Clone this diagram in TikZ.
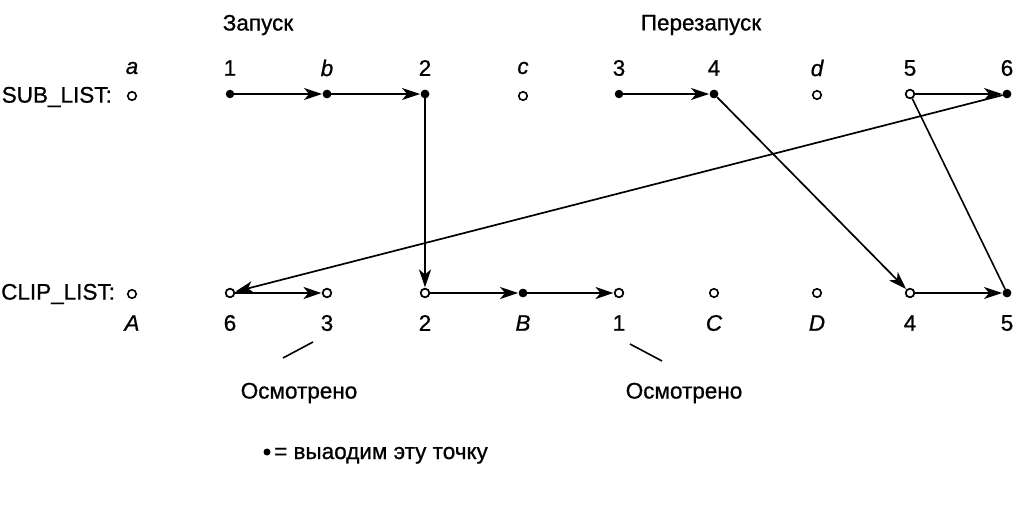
\documentclass[tikz,border=0pt]{standalone}
\usepackage{fontspec}
\setmainfont[FakeBold=0.8]{Liberation Sans}
\usetikzlibrary{arrows.meta}
\begin{document}
\begin{tikzpicture}[x=1pt,y=-1pt,
  full/.style={circle,fill=black,inner sep=0pt,minimum size=8.5pt},
  hollow/.style={circle,draw=black,line width=1.6pt,fill=white,inner sep=0pt,minimum size=8.5pt},
  lbl/.style={font=\fontsize{22.5}{26}\selectfont,inner sep=0pt},
  ilbl/.style={font=\fontsize{22.5}{26}\selectfont\itshape,inner sep=0pt},
  arr/.style={line width=1.7pt,-{Stealth[length=18pt,width=12pt,inset=5pt]},shorten >=0.5pt},
  ln/.style={line width=1.6pt}]
\useasboundingbox (0,0) rectangle (1017,516);
% titles
\node[lbl] (zap) at (258,25) {Запуск};
\node[lbl] (perezap) at (701,25) {Перезапуск};
% row names
\node[lbl,anchor=east] (sub) at (112,97) {SUB\_LIST:};
\node[lbl,anchor=west] (clip) at (1,294) {CLIP\_LIST:};
% top row nodes
\node[hollow] (ta) at (132,96) {};
\node[full] (t1) at (230,94) {};
\node[full] (tb) at (327,94) {};
\node[full] (t2) at (425,94) {};
\node[hollow] (tc) at (523,96) {};
\node[full] (t3) at (619,94) {};
\node[full] (t4) at (714,94) {};
\node[hollow] (td) at (817,95) {};
\node[hollow] (t5) at (910,94) {};
\node[full] (t6) at (1007,94) {};
% top labels
\node[ilbl] at (132,68) {a};
\node[lbl] at (230,68) {1};
\node[ilbl] at (327,68) {b};
\node[lbl] at (425,68) {2};
\node[ilbl] at (523,68) {c};
\node[lbl] at (619,68) {3};
\node[lbl] at (714,68) {4};
\node[ilbl] at (817,68) {d};
\node[lbl] at (910,68) {5};
\node[lbl] at (1007,68) {6};
% bottom row nodes
\node[hollow] (bA) at (132,294) {};
\node[hollow] (b6) at (230,293) {};
\node[hollow] (b3) at (327,293) {};
\node[hollow] (b2) at (425,293) {};
\node[full] (bB) at (523,293) {};
\node[hollow] (b1) at (619,293) {};
\node[hollow] (bC) at (714,293) {};
\node[hollow] (bD) at (817,293) {};
\node[hollow] (b4) at (910,293) {};
\node[full] (b5) at (1007,293) {};
% bottom labels
\node[ilbl] at (132,323) {A};
\node[lbl] at (230,323) {6};
\node[lbl] (l3) at (327,323) {3};
\node[lbl] at (425,323) {2};
\node[ilbl] at (523,323) {B};
\node[lbl] (l1) at (619,323) {1};
\node[ilbl] at (714,323) {C};
\node[ilbl] at (817,323) {D};
\node[lbl] at (910,323) {4};
\node[lbl] at (1007,323) {5};
% connectors
\draw[arr] (t1) -- (tb);
\draw[arr] (tb) -- (t2);
\draw[arr] (t2) -- (b2);
\draw[arr] (b2) -- (bB);
\draw[arr] (bB) -- (b1);
\draw[arr] (t3) -- (t4);
\draw[arr] (t4) -- (b4);
\draw[arr] (b4) -- (b5);
\draw[ln] (t5) -- (b5);
\draw[arr] (t5) -- (t6);
\draw[arr] (t6) -- (b6);
\draw[arr] (b6) -- (b3);
% redraw dots on top
\foreach \n in {t5,b6,b2,b4,b3,b1} \node[hollow] at (\n) {};
\foreach \n in {t6,b5,t2,bB,t4,tb} \node[full] at (\n) {};
% Osmotreno
\node[lbl] (os1) at (299,393) {Осмотрено};
\node[lbl] (os2) at (684,393) {Осмотрено};
\coordinate (p1a) at (283,358);
\coordinate (p1b) at (313,342);
\coordinate (p2a) at (630,344);
\coordinate (p2b) at (662,361);
\draw[ln] (p1a) -- (p1b);
\draw[ln] (p2a) -- (p2b);
% legend
\node[full,minimum size=7pt] (leg) at (267,452) {};
\node[lbl,anchor=base west] (legt) at (274,459) {= выаодим эту точку};
\end{tikzpicture}
\end{document}
